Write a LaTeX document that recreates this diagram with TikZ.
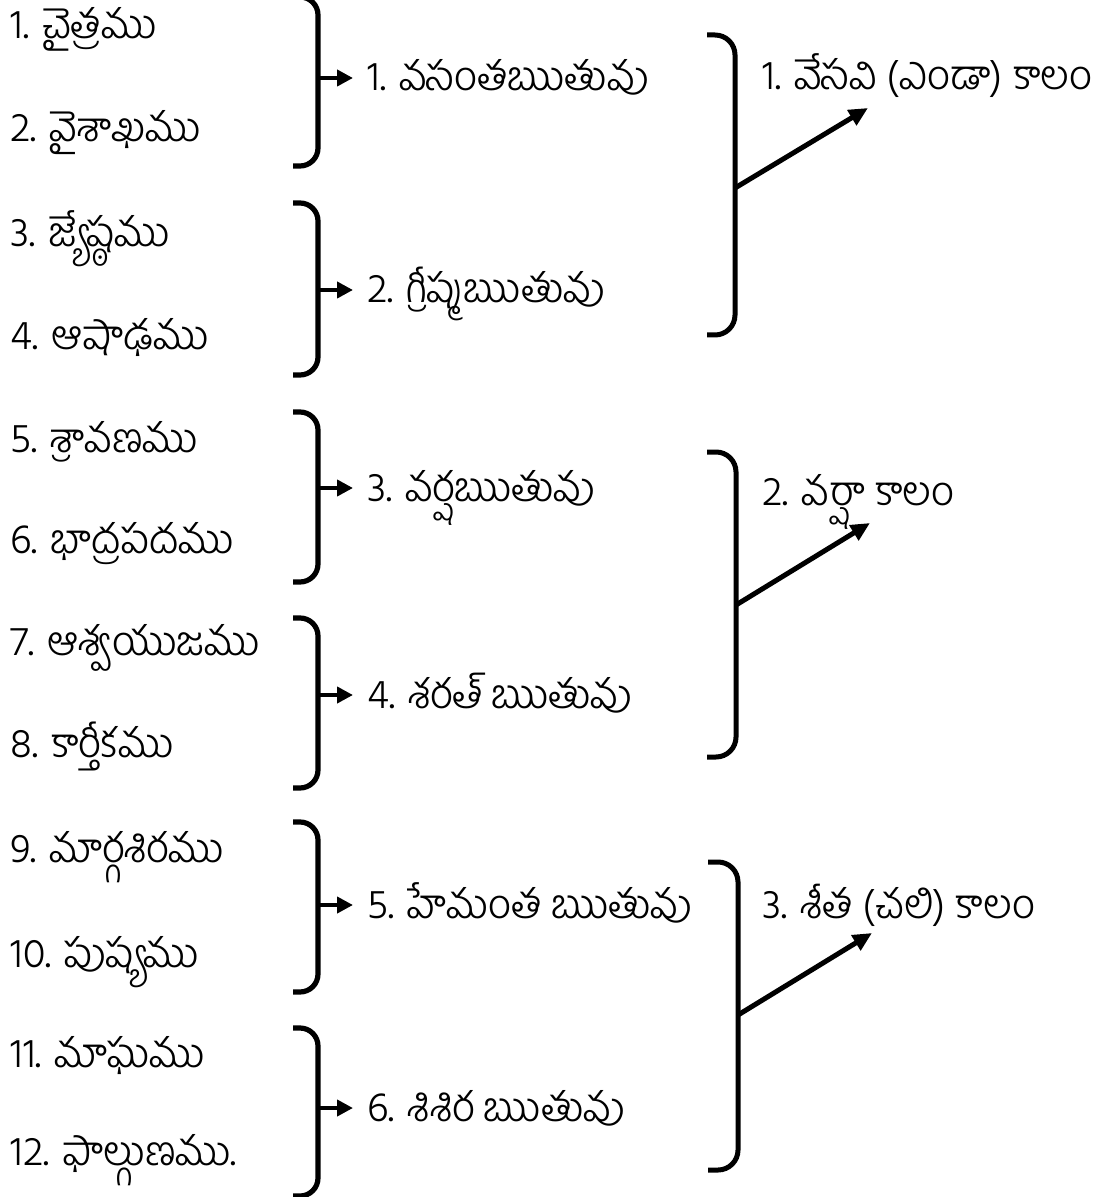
\documentclass[tikz,border=0pt]{standalone}
\usepackage{fontspec}
\newfontfamily\telugufont[Script=Telugu]{Hind Guntur Light}
\usetikzlibrary{arrows.meta}
\usetikzlibrary{calc}

\begin{document}
\begin{tikzpicture}
 [ x=0.5pt, y=-0.5pt
 , every node/.style={font=\telugufont\fontsize{20.5}{24}\selectfont, inner sep=0pt}
 , month/.style={anchor=base west}
 , season/.style={anchor=base west, inner xsep=7pt}
 , kaalam/.style={anchor=base west}
 , small brace/.style={line width=2.6pt, rounded corners=9pt}
 , big brace/.style={line width=2.5pt, rounded corners=10pt}
 , small arrow/.style={line width=2.2pt, -{Triangle[length=8pt,width=8pt]}}
 , big arrow/.style={line width=2.5pt, -{Triangle[length=9.5pt,width=8.5pt]}}
 ]
  \useasboundingbox (0,0) rectangle (1119,1197);

  % months
  \node[month] (m1)  at (10,39)   {1. చైత్రము};
  \node[month] (m2)  at (10,142)  {2. వైశాఖము};
  \node[month] (m3)  at (10,247)  {3. జ్యేష్ఠము};
  \node[month] (m4)  at (10,350)  {4. ఆషాఢము};
  \node[month] (m5)  at (10,452)  {5. శ్రావణము};
  \node[month] (m6)  at (10,553)  {6. భాద్రపదము};
  \node[month] (m7)  at (10,655)  {7. ఆశ్వయుజము};
  \node[month] (m8)  at (10,757)  {8. కార్తీకము};
  \node[month] (m9)  at (10,862)  {9. మార్గశిరము};
  \node[month] (m10) at (10,967)  {10. పుష్యము};
  \node[month] (m11) at (10,1067) {11. మాఘము};
  \node[month] (m12) at (10,1165) {12. ఫాల్గుణము.};

  % seasons
  \node[season] (s1) at (353,91)   {1. వసంతఋతువు};
  \node[season] (s2) at (353,303)  {2. గ్రీష్మఋతువు};
  \node[season] (s3) at (353,501)  {3. వర్షఋతువు};
  \node[season] (s4) at (353,708)  {4. శరత్ ఋతువు};
  \node[season] (s5) at (353,918)  {5. హేమంత ఋతువు};
  \node[season] (s6) at (353,1121) {6. శిశిర ఋతువు};

  % kaalams
  \node[kaalam] (k1) at (762,90)  {1. వేసవి (ఎండా) కాలం};
  \node[kaalam] (k2) at (762,505) {2. వర్షా కాలం};
  \node[kaalam] (k3) at (762,918) {3. శీత (చలి) కాలం};

  % month pairs
  \draw[small brace] (293,-3) -- (318,-3) -- (318,166) -- (293,166);
  \draw[small brace] (293,203) -- (318,203) -- (318,375) -- (293,375);
  \draw[small brace] (293,412) -- (318,412) -- (318,582) -- (293,582);
  \draw[small brace] (293,618) -- (318,618) -- (318,788) -- (293,788);
  \draw[small brace] (293,822) -- (318,822) -- (318,992) -- (293,992);
  \draw[small brace] (293,1028) -- (318,1028) -- (318,1196) -- (293,1196);
  \coordinate (r1) at (318,78);
  \coordinate (r2) at (318,290);
  \coordinate (r3) at (318,488);
  \coordinate (r4) at (318,695);
  \coordinate (r5) at (318,905);
  \coordinate (r6) at (318,1108);
  \draw[small arrow] (r1) -- (r1 -| s1.west);
  \draw[small arrow] (r2) -- (r2 -| s2.west);
  \draw[small arrow] (r3) -- (r3 -| s3.west);
  \draw[small arrow] (r4) -- (r4 -| s4.west);
  \draw[small arrow] (r5) -- (r5 -| s5.west);
  \draw[small arrow] (r6) -- (r6 -| s6.west);

  % season pairs
  \draw[big brace] (707,35) -- (735,35) -- (735,335) -- (707,335);
  \draw[big brace] (707,452) -- (736,452) -- (736,757) -- (707,757);
  \draw[big brace] (708,862) -- (738,862) -- (738,1170) -- (708,1170);
  \coordinate (b1) at (735,188);
  \coordinate (b2) at (736,605);
  \coordinate (b3) at (738,1015);
  \coordinate (t1) at (868,108);
  \coordinate (t2) at (870,523);
  \coordinate (t3) at (872,933);
  \draw[big arrow] (b1) -- (t1);
  \draw[big arrow] (b2) -- (t2);
  \draw[big arrow] (b3) -- (t3);
\end{tikzpicture}
\end{document}
